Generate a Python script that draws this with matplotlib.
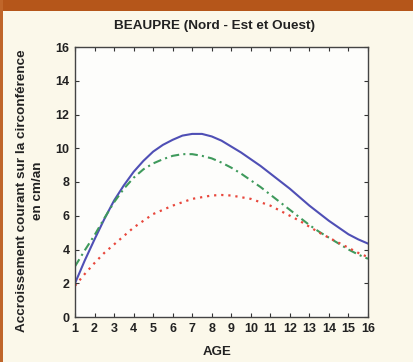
import matplotlib
matplotlib.use("Agg")
from matplotlib import pyplot as plt
from matplotlib.patches import Rectangle

ages = [1.0, 1.5, 2.0, 2.5, 3.0, 3.5, 4.0, 4.5, 5.0, 5.5, 6.0, 6.5, 7.0, 7.5, 8.0, 8.5,
        9.0, 9.5, 10.0, 10.5, 11.0, 11.5, 12.0, 12.5, 13.0, 13.5, 14.0, 14.5, 15.0, 15.5, 16.0]
blue = [2.0, 3.35, 4.6, 5.8, 6.9, 7.8, 8.6, 9.25, 9.8, 10.2, 10.5, 10.75, 10.85, 10.85, 10.7, 10.45,
        10.1, 9.75, 9.35, 8.95, 8.5, 8.05, 7.6, 7.1, 6.6, 6.15, 5.7, 5.3, 4.9, 4.6, 4.35]
green = [3.0, 3.95, 4.85, 5.85, 6.8, 7.6, 8.25, 8.75, 9.1, 9.35, 9.55, 9.65, 9.65, 9.55, 9.4, 9.15,
         8.85, 8.5, 8.1, 7.7, 7.25, 6.8, 6.35, 5.9, 5.45, 5.05, 4.7, 4.35, 4.0, 3.7, 3.45]
red = [1.85, 2.55, 3.2, 3.8, 4.3, 4.8, 5.3, 5.7, 6.1, 6.35, 6.6, 6.8, 7.0, 7.1, 7.2, 7.23,
       7.2, 7.1, 7.0, 6.8, 6.6, 6.3, 6.0, 5.7, 5.35, 5.0, 4.7, 4.4, 4.1, 3.8, 3.55]
xticks = list(range(1, 17))
yticks = [0, 2, 4, 6, 8, 10, 12, 14, 16]

plt.rcParams['font.family'] = ['Liberation Sans', 'DejaVu Sans']
plt.rcParams['font.weight'] = 'bold'

fig = plt.figure(figsize=(4.14, 3.62), dpi=100)
fig.patch.set_facecolor('#fbf8ea')
# orange frame pieces (top band, thin left strip)
fig.patches.append(Rectangle((0, 1 - 11 / 362), 1, 11 / 362, transform=fig.transFigure,
                             facecolor='#b5561a', lw=0, zorder=0))
fig.patches.append(Rectangle((0, 0), 3 / 414, 1, transform=fig.transFigure,
                             facecolor='#c0662a', lw=0, zorder=0))

ax = fig.add_axes([75 / 414, 45 / 362, 293 / 414, 270 / 362])
ax.set_facecolor('#fdfdfb')
ax.plot(ages, blue, color='#4f4fb5', lw=1.5, ls='-')
ax.plot(ages, green, color='#3f9a5c', lw=1.5, ls='-.', dashes=(4, 2, 1, 2))
ax.plot(ages, red, color='#e8473c', lw=1.6, ls=':', dashes=(1, 2.2))

ax.set_xlim(1, 16)
ax.set_ylim(0, 16)
ax.set_xticks(xticks)
ax.set_yticks(yticks)
ax.tick_params(direction='in', top=True, right=True, length=3, width=0.8,
               labelsize=9, colors='#333333', pad=4)
for lab in ax.get_xticklabels() + ax.get_yticklabels():
    lab.set_fontweight('bold')
    lab.set_color('#222222')
for s in ax.spines.values():
    s.set_color('#444444')
    s.set_linewidth(1.0)

fig.text(215 / 414, 1 - 26 / 362, 'BEAUPRE (Nord - Est et Ouest)', ha='center', va='center',
         fontsize=9.7, fontweight='bold', color='#222222')
fig.text(217 / 414, 1 - 352 / 362, 'AGE', ha='center', va='center',
         fontsize=9.5, fontweight='bold', color='#222222')
fig.text(30 / 414, 1 - 191 / 362, 'Accroissement courant sur la circonférence\nen cm/an',
         ha='center', va='center', rotation=90, fontsize=9.7, fontweight='bold',
         color='#222222', linespacing=1.4)

fig.savefig('out.png', dpi=100, facecolor=fig.get_facecolor())
